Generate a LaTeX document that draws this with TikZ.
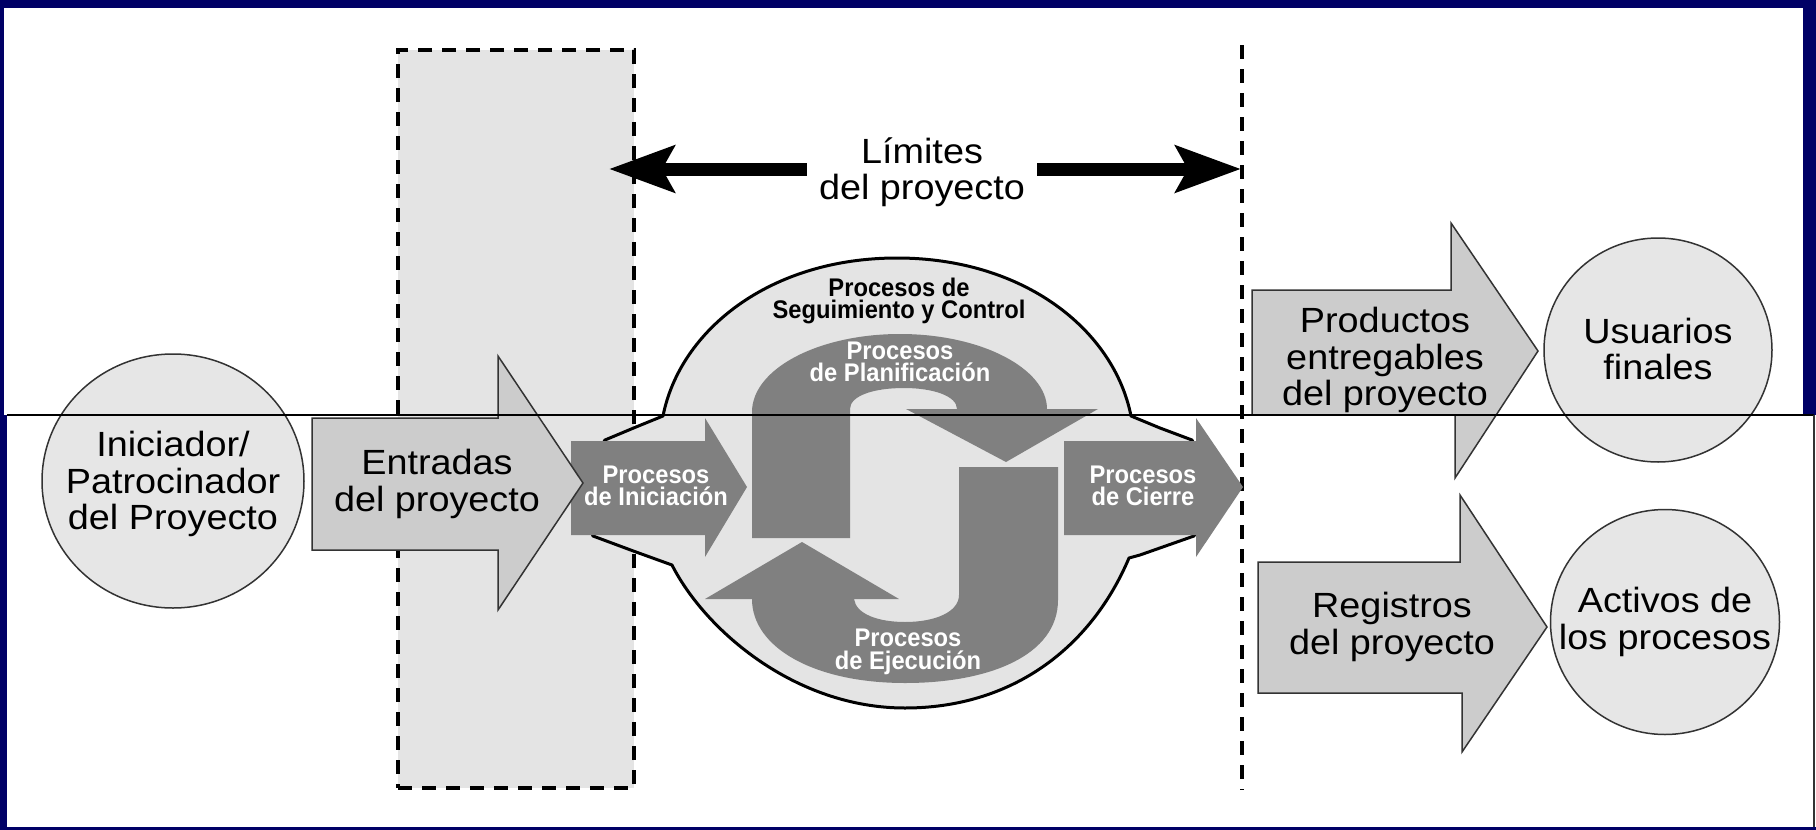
\documentclass[tikz,border=0pt]{standalone}
\usepackage{fontspec}
\setmainfont{Liberation Sans}
\newfontfamily\labfont[FakeStretch=1.08]{Liberation Sans}
\newfontfamily\proclabfont[FakeStretch=0.93]{Liberation Sans}
\usetikzlibrary{arrows.meta,shapes.geometric}
\definecolor{navyfr}{RGB}{0,0,102}
\definecolor{circfill}{HTML}{E6E6E6}
\definecolor{arrfill}{HTML}{CCCCCC}
\definecolor{edgecol}{HTML}{333333}
\definecolor{procgray}{HTML}{808080}
\definecolor{rectfill}{HTML}{E4E4E4}
\definecolor{blobfill}{HTML}{E4E4E4}
\begin{document}
\begin{tikzpicture}[x=1pt,y=-1pt,
  lbl/.style={font=\labfont\fontsize{35}{36.5}\selectfont, align=center, inner sep=0pt},
  wlbl/.style={font=\proclabfont\bfseries\fontsize{25.5}{22.5}\selectfont, text=white, align=center, inner sep=0pt},
  blbl/.style={wlbl, text=black},
  circ/.style={ellipse, draw=edgecol, fill=circfill, line width=1.5pt, inner sep=0pt},
  bigarrow/.style={draw=edgecol, fill=arrfill, line width=1.5pt, line join=miter},
  procshape/.style={fill=procgray},
  dashline/.style={line width=4pt, dash pattern=on 14pt off 10pt},
  limarrow/.style={line width=13pt, -{Stealth[length=65pt, width=46pt, inset=12pt]}}
]
\useasboundingbox (0,0) rectangle (1816,830);
% frame
\fill[navyfr] (0,0) rectangle (1816,830);
\fill[white] (4,8) rectangle (1803,415);
\fill[white] (7,415) rectangle (1816,827);

% dashed inputs box
\node[draw, dashline, fill=rectfill, minimum width=236pt, minimum height=738pt, inner sep=0pt] (inbox) at (516,419) {};

% project boundary
\coordinate (bTop) at (1242,45);
\coordinate (bBot) at (1242,790);
\draw[dashline] (bTop) -- (bBot);

% limits label and arrows
\node[lbl, inner xsep=12pt] (lim) at (922,172) {Límites\\del proyecto};
\coordinate (limL) at (609,169);
\coordinate (limR) at (1241,169);
\draw[limarrow] (lim.west |- limL) -- (limL);
\draw[limarrow] (lim.east |- limR) -- (limR);

% initiator circle
\node[circ, minimum width=262pt, minimum height=254pt] (ini) at (173,481) {};
\node[lbl] (iniT) at (173,484) {Iniciador/\\Patrocinador\\del Proyecto};

% central blob (monitoring and control)
\path[draw=black, line width=3pt, fill=blobfill, line join=round]
  (575,488) -- (605,440) -- (636,427) -- (663,416)
  .. controls (680,330) and (770,258) .. (897,258)
  .. controls (1024,258) and (1114,330) .. (1131,416)
  -- (1160,428) -- (1192,440) -- (1215,488) -- (1194,536) -- (1140,555) -- (1129,558)
  .. controls (1090,650) and (1010,708) .. (905,708)
  .. controls (795,708) and (705,630) .. (672,565)
  -- (636,552) -- (593,536) -- cycle;
\node[blbl] (monT) at (899,301) {Procesos de\\Seguimiento y Control};

% planning arrow
\fill[procshape] (752,538) -- (752,412)
  .. controls (752,369) and (818,334) .. (900,334)
  .. controls (982,334) and (1047,369) .. (1047,409)
  -- (1098,409) -- (1006,462) -- (906,409) -- (957,409)
  .. controls (957,396) and (933,388) .. (904,388)
  .. controls (873,388) and (850,396) .. (850,409)
  -- (850,538) -- cycle;
\node[wlbl] (planT) at (900,362) {Procesos\\de Planificación};

% execution arrow
\fill[procshape] (959,467) -- (1058,467) -- (1058,600)
  .. controls (1058,655) and (990,683) .. (905,683)
  .. controls (815,683) and (752,648) .. (752,599)
  -- (705,599) -- (802,542) -- (899,599) -- (854,599)
  .. controls (856,614) and (878,622) .. (905,622)
  .. controls (935,622) and (959,612) .. (959,595)
  -- cycle;
\node[wlbl] (execT) at (908,652) {Procesos\\de Ejecución};

% initiating and closing arrows
\fill[procshape] (571,441) -- (705,441) -- (705,418) -- (747,487) -- (705,557) -- (705,535) -- (571,535) -- cycle;
\node[wlbl] (initP) at (656,486) {Procesos\\de Iniciación};
\fill[procshape] (1064,441) -- (1196,441) -- (1196,418) -- (1243,487) -- (1196,557) -- (1196,535) -- (1064,535) -- cycle;
\node[wlbl] (closeP) at (1143,486) {Procesos\\de Cierre};

% inputs arrow
\path[bigarrow] (312,418) -- (498,418) -- (498,356) -- (583,483) -- (498,610) -- (498,550) -- (312,550) -- cycle;
\node[lbl] (entT) at (437,484) {Entradas\\del proyecto};

% deliverables arrow
\path[bigarrow] (1252,290) -- (1451,290) -- (1451,223) -- (1538,351) -- (1455,478) -- (1455,415) -- (1252,415) -- cycle;
\node[lbl] (prodT) at (1385,360) {Productos\\entregables\\del proyecto};

% records arrow
\path[bigarrow] (1258,562) -- (1460,562) -- (1460,495) -- (1547,627) -- (1462,752) -- (1462,693) -- (1258,693) -- cycle;
\node[lbl] (regT) at (1392,627) {Registros\\del proyecto};

% end users and assets circles
\node[circ, minimum width=228pt, minimum height=224pt] (usr) at (1658,350) {};
\node[lbl] (usrT) at (1658,349) {Usuarios\\finales};
\node[circ, minimum width=229pt, minimum height=225pt] (act) at (1665,622) {};
\node[lbl] (actT) at (1665,622) {Activos de\\los procesos};

% seam between the two halves
\coordinate (seamL) at (7,415);
\coordinate (seamR) at (1814,415);
\coordinate (seamB) at (1814,827);
\draw[line width=2.5pt] (seamL) -- (seamR);
\draw[edgecol, line width=1.2pt] (seamR) -- (seamB);
\end{tikzpicture}
\end{document}
